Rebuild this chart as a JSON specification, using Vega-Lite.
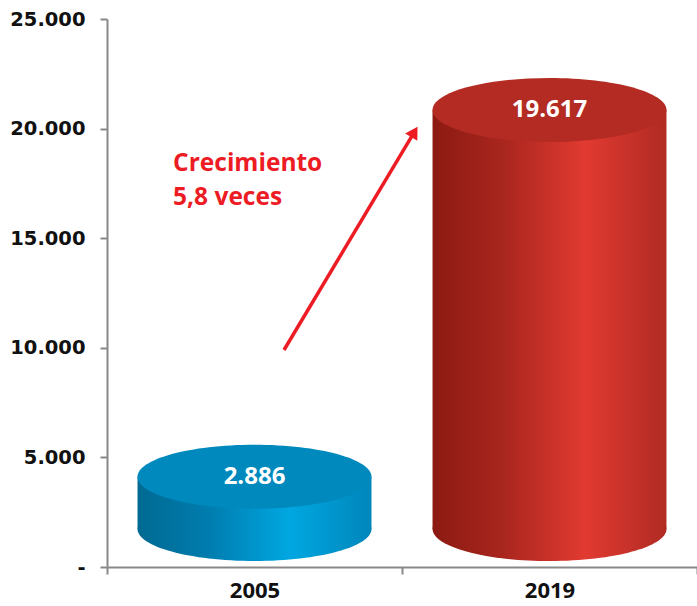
{
  "$schema": "https://vega.github.io/schema/vega-lite/v6.json",
  "autosize": {"type": "none"},
  "width": 590,
  "height": 548,
  "padding": {"left": 107, "top": 19, "right": 0, "bottom": 39},
  "background": "white",
  "config": {
    "view": {"stroke": null},
    "font": "Open Sans",
    "locale": {"number": {"decimal": ",", "thousands": ".", "grouping": [3], "currency": ["", ""]}}
  },
  "datasets": {
    "main": [
      {"year": "2005", "value": 2886},
      {"year": "2019", "value": 19617}
    ],
    "arrow": [
      {"ax": 0.6, "ay": 9900},
      {"ax": 1.042, "ay": 19850}
    ],
    "head": [
      {"ax": 1.042, "ay": 19850}
    ],
    "note": [
      {"tx": 0.224, "ty": 18400, "t": "Crecimiento"},
      {"tx": 0.224, "ty": 16850, "t": "5,8 veces"}
    ]
  },
  "layer": [
    {
      "data": {"name": "main"},
      "encoding": {
        "x": {
          "field": "year", "type": "nominal",
          "scale": {"paddingInner": 0, "paddingOuter": 0},
          "axis": {
            "title": null, "labelAngle": 0, "domainColor": "#888888", "domainWidth": 2,
            "tickColor": "#888888", "tickWidth": 2, "tickSize": 7, "tickBand": "extent",
            "labelFont": "Open Sans", "labelFontWeight": "bold", "labelFontSize": 22,
            "labelColor": "#111111", "labelPadding": 6
          }
        },
        "y": {
          "field": "value", "type": "quantitative",
          "scale": {"domain": [0, 25000], "nice": false},
          "axis": {
            "title": null, "values": [0, 5000, 10000, 15000, 20000, 25000], "format": ",d",
            "labelExpr": "datum.value == 0 ? '-' : datum.label",
            "grid": false, "domainColor": "#888888", "domainWidth": 2,
            "tickColor": "#888888", "tickWidth": 2, "tickSize": 7,
            "labelFont": "DejaVu Sans", "labelFontWeight": "bold", "labelFontSize": 19.5,
            "labelColor": "#111111", "labelPadding": 15
          }
        }
      },
      "layer": [
        {
          "transform": [{"filter": "datum.year == '2005'"}],
          "mark": {"type": "point", "filled": true, "opacity": 1, "size": 54756, "yOffset": -38,
            "shape": "M-1,0C-1,-0.151,-0.5523,-0.2735,0,-0.2735C0.5523,-0.2735,1,-0.151,1,0C1,0.151,0.5523,0.2735,0,0.2735C-0.5523,0.2735,-1,0.151,-1,0Z",
            "color": {"gradient": "linear", "x1": 0, "x2": 1, "y1": 0, "y2": 0,
              "stops": [{"offset": 0, "color": "#006a92"}, {"offset": 0.3, "color": "#007cae"}, {"offset": 0.65, "color": "#00a7e1"}, {"offset": 1, "color": "#0086bb"}]}},
          "encoding": {"y": {"datum": 0}}
        },
        {
          "transform": [{"filter": "datum.year == '2019'"}],
          "mark": {"type": "point", "filled": true, "opacity": 1, "size": 54756, "yOffset": -38,
            "shape": "M-1,0C-1,-0.151,-0.5523,-0.2735,0,-0.2735C0.5523,-0.2735,1,-0.151,1,0C1,0.151,0.5523,0.2735,0,0.2735C-0.5523,0.2735,-1,0.151,-1,0Z",
            "color": {"gradient": "linear", "x1": 0, "x2": 1, "y1": 0, "y2": 0,
              "stops": [{"offset": 0, "color": "#8c1a12"}, {"offset": 0.3, "color": "#a8261e"}, {"offset": 0.65, "color": "#e13a31"}, {"offset": 1, "color": "#b02b23"}]}},
          "encoding": {"y": {"datum": 0}}
        },
        {
          "transform": [{"filter": "datum.year == '2005'"}],
          "mark": {"type": "bar", "width": {"band": 0.793}, "yOffset": -27, "y2Offset": -38,
            "color": {"gradient": "linear", "x1": 0, "x2": 1, "y1": 0, "y2": 0,
              "stops": [{"offset": 0, "color": "#006a92"}, {"offset": 0.3, "color": "#007cae"}, {"offset": 0.65, "color": "#00a7e1"}, {"offset": 1, "color": "#0086bb"}]}},
          "encoding": {"y2": {"datum": 0}}
        },
        {
          "transform": [{"filter": "datum.year == '2019'"}],
          "mark": {"type": "bar", "width": {"band": 0.793}, "yOffset": -27, "y2Offset": -38,
            "color": {"gradient": "linear", "x1": 0, "x2": 1, "y1": 0, "y2": 0,
              "stops": [{"offset": 0, "color": "#8c1a12"}, {"offset": 0.3, "color": "#a8261e"}, {"offset": 0.65, "color": "#e13a31"}, {"offset": 1, "color": "#b02b23"}]}},
          "encoding": {"y2": {"datum": 0}}
        },
        {
          "mark": {"type": "point", "filled": true, "opacity": 1, "size": 54756, "yOffset": -27,
            "shape": "M-1,0C-1,-0.151,-0.5523,-0.2735,0,-0.2735C0.5523,-0.2735,1,-0.151,1,0C1,0.151,0.5523,0.2735,0,0.2735C-0.5523,0.2735,-1,0.151,-1,0Z"},
          "encoding": {
            "color": {"field": "year", "type": "nominal", "scale": {"domain": ["2005", "2019"], "range": ["#0089bd", "#b32b23"]}, "legend": null}
          }
        },
        {
          "mark": {"type": "text", "yOffset": -27, "font": "Open Sans", "fontWeight": "bold", "fontSize": 24, "color": "white", "baseline": "middle"},
          "encoding": {"text": {"field": "value", "type": "quantitative", "format": ",d"}}
        }
      ]
    },
    {
      "layer": [
        {
          "data": {"name": "arrow"},
          "mark": {"type": "line", "color": "#ed1c24", "strokeWidth": 3.5},
          "encoding": {
            "x": {"field": "ax", "type": "quantitative", "scale": {"domain": [0, 2]}, "axis": null},
            "y": {"field": "ay", "type": "quantitative"}
          }
        },
        {
          "data": {"name": "head"},
          "mark": {"type": "point", "shape": "triangle-up", "filled": true, "opacity": 1, "color": "#ed1c24", "size": 200, "angle": 31},
          "encoding": {
            "x": {"field": "ax", "type": "quantitative", "scale": {"domain": [0, 2]}, "axis": null},
            "y": {"field": "ay", "type": "quantitative"}
          }
        },
        {
          "data": {"name": "note"},
          "mark": {"type": "text", "align": "left", "baseline": "middle", "font": "Open Sans", "fontWeight": "bold", "fontSize": 24.5, "color": "#ed1c24"},
          "encoding": {
            "x": {"field": "tx", "type": "quantitative", "scale": {"domain": [0, 2]}, "axis": null},
            "y": {"field": "ty", "type": "quantitative"},
            "text": {"field": "t"}
          }
        }
      ]
    }
  ],
  "resolve": {"scale": {"x": "independent"}}
}
